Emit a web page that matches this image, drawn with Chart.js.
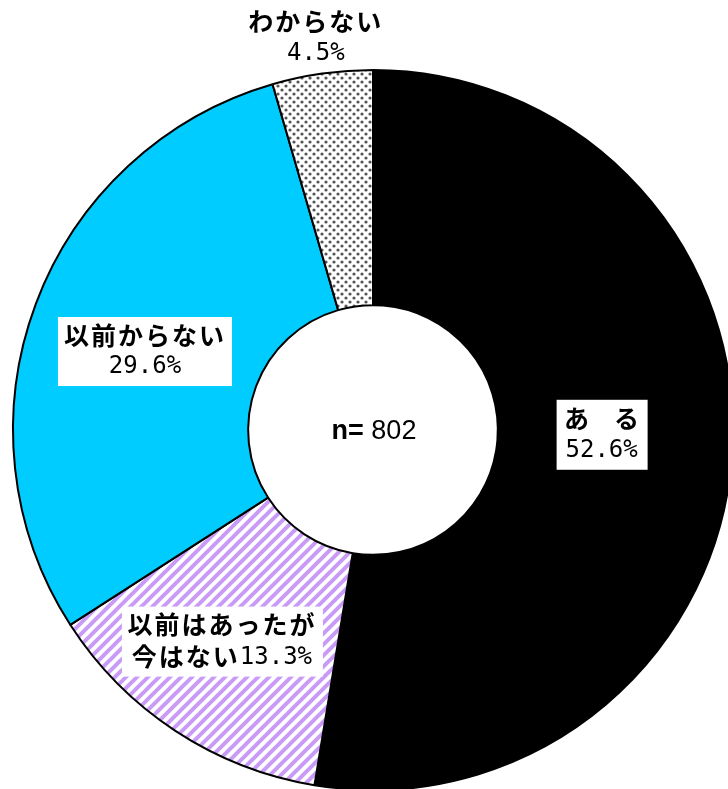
<!DOCTYPE html>
<html>
<head>
<meta charset="utf-8">
<script src="https://cdn.jsdelivr.net/npm/chart.js@4.4.1/dist/chart.umd.min.js"></script>
<style>
  html, body { margin: 0; padding: 0; background: #fff; }
  #wrap { width: 728px; height: 789px; overflow: hidden; position: relative; }
  #pie { position: absolute; left: 0; top: 0; }
</style>
</head>
<body>
<div id="wrap">
  <canvas id="pie" width="746" height="860"></canvas>
</div>
<script>
// data
const labels = ["ある", "以前はあったが今はない", "以前からない", "わからない"];
const titleLines = [["あ　る"], ["以前はあったが", "今はない"], ["以前からない"], ["わからない"]];
const values = [52.6, 13.3, 29.6, 4.5];
const sampleSize = 802;

// fill patterns
const makeDots = () => {
  const c = document.createElement("canvas");
  c.width = 8;
  c.height = 8;
  const g = c.getContext("2d");
  g.fillStyle = "#fff";
  g.fillRect(0, 0, 8, 8);
  g.fillStyle = "#555";
  [[2, 2], [6, 6]].forEach(([x, y]) => {
    g.beginPath();
    g.arc(x, y, 1.6, 0, Math.PI * 2);
    g.fill();
  });
  return g.createPattern(c, "repeat");
};

const makeStripes = () => {
  const c = document.createElement("canvas");
  c.width = 11;
  c.height = 11;
  const g = c.getContext("2d");
  g.fillStyle = "#fff";
  g.fillRect(0, 0, 11, 11);
  g.strokeStyle = "#c99bf7";
  g.lineWidth = 4;
  for (let k = -1; k <= 1; k++) {
    g.beginPath();
    g.moveTo(-2 + k * 11, 13);
    g.lineTo(13 + k * 11, -2);
    g.stroke();
  }
  return g.createPattern(c, "repeat");
};

const colors = ["#000000", makeStripes(), "#00ccff", makeDots()];

// label placement (offset from each slice's middle point)
const labelOffsets = [[-13, -15], [-18, 9], [-1, 6], [-23, -152]];
const boxes = [[-45, -35, 91, 70], [-100, -35, 201, 70], [-87, -34, 174, 69], null];

const jpFont = "bold 25px 'Noto Sans CJK JP', sans-serif";
const pctFont = "24px 'DejaVu Sans Mono', monospace";

const labelPlugin = {
  id: "sliceLabels",
  afterDatasetsDraw(chart) {
    const ctx = chart.ctx;
    const arcs = chart.getDatasetMeta(0).data;
    ctx.save();
    ctx.textBaseline = "middle";
    arcs.forEach((arc, i) => {
      const p = arc.tooltipPosition();
      const x = p.x + labelOffsets[i][0];
      const y = p.y + labelOffsets[i][1];
      const pct = values[i].toFixed(1) + "%";
      if (boxes[i]) {
        const b = boxes[i];
        ctx.fillStyle = "#fff";
        ctx.fillRect(x + b[0], y + b[1], b[2], b[3]);
      }
      ctx.fillStyle = "#000";
      ctx.textAlign = "center";
      ctx.letterSpacing = "2px";
      const lines = titleLines[i];
      if (lines.length === 2) {
        ctx.font = jpFont;
        ctx.fillText(lines[0], x, y - 17);
        // second line: title + percent side by side
        const w1 = ctx.measureText(lines[1]).width;
        ctx.font = pctFont;
        ctx.letterSpacing = "0px";
        const w2 = ctx.measureText(pct).width;
        const left = x - (w1 + w2) / 2;
        ctx.textAlign = "left";
        ctx.font = jpFont;
        ctx.letterSpacing = "2px";
        ctx.fillText(lines[1], left, y + 15);
        ctx.font = pctFont;
        ctx.letterSpacing = "0px";
        ctx.fillText(pct, left + w1, y + 16);
      } else {
        ctx.font = jpFont;
        ctx.letterSpacing = i === 0 ? "0px" : "2px";
        ctx.fillText(lines[0], x, y - 16);
        ctx.font = pctFont;
        ctx.letterSpacing = "0px";
        ctx.fillText(pct, x, y + 16);
      }
    });
    // centre text
    const c = arcs[0];
    ctx.textAlign = "left";
    ctx.letterSpacing = "0px";
    ctx.font = "bold 27px 'Liberation Sans', Arial, sans-serif";
    const a = "n=";
    const wa = ctx.measureText(a).width;
    ctx.font = "27px 'Liberation Sans', Arial, sans-serif";
    const b = " " + sampleSize;
    const wb = ctx.measureText(b).width;
    const sx = c.x - (wa + wb) / 2 + 1;
    ctx.font = "bold 27px 'Liberation Sans', Arial, sans-serif";
    ctx.fillText(a, sx, c.y + 2);
    ctx.font = "27px 'Liberation Sans', Arial, sans-serif";
    ctx.fillText(b, sx + wa, c.y + 2);
    ctx.restore();
  }
};

new Chart(document.getElementById("pie"), {
  type: "doughnut",
  plugins: [labelPlugin],
  data: {
    labels: labels,
    datasets: [{
      data: values,
      backgroundColor: colors,
      borderColor: "#000",
      borderWidth: 2
    }]
  },
  options: {
    responsive: false,
    devicePixelRatio: 1,
    animation: false,
    events: [],
    radius: 360,
    cutout: 129,
    layout: { padding: 0 },
    plugins: {
      legend: { display: false },
      tooltip: { enabled: false }
    }
  }
});
</script>
</body>
</html>
